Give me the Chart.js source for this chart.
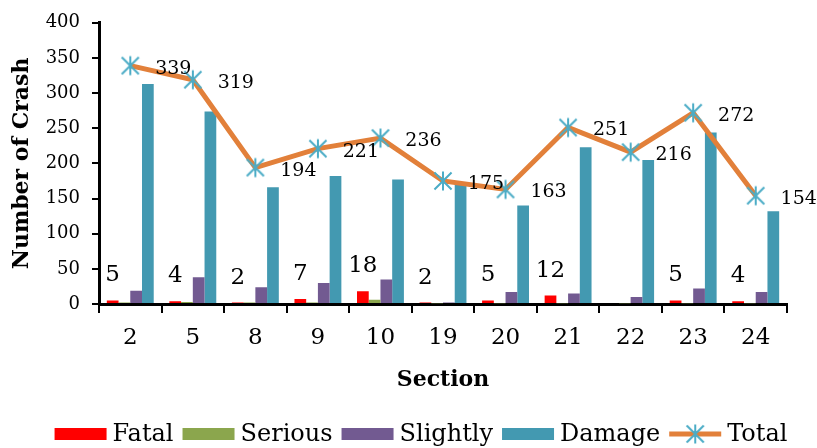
<!DOCTYPE html>
<html>
<head>
<meta charset="utf-8">
<script src="https://cdn.jsdelivr.net/npm/chart.js@4/dist/chart.umd.min.js"></script>
<style>
  html, body { margin: 0; padding: 0; background: #ffffff; }
  #wrap { width: 817px; height: 448px; }
</style>
</head>
<body>
<div id="wrap"><canvas id="crashChart" width="817" height="448"></canvas></div>
<script>
// Crash counts per road section
const sections = ['2', '5', '8', '9', '10', '19', '20', '21', '22', '23', '24'];
const fatal    = [5, 4, 2, 7, 18, 2, 5, 12, 0, 5, 4];
const serious  = [2, 3, 2, 2, 6, 1, 1, 1, 1, 1, 1];
const slightly = [19, 38, 24, 30, 35, 2, 17, 15, 10, 22, 17];
const damage   = [313, 274, 166, 182, 177, 170, 140, 223, 205, 244, 132];
const total    = [339, 319, 194, 221, 236, 175, 163, 251, 216, 272, 154];

const SERIF = '"DejaVu Serif", "Liberation Serif", serif';
const ORANGE = '#E2803A';
const STAR = '#4BACC6';

// Asterisk marker (vertical bar plus two diagonals)
function makeAsterisk(size, color, lw) {
  const c = document.createElement('canvas');
  c.width = size; c.height = size;
  const g = c.getContext('2d');
  const m = size / 2;
  const r = m - 1.5;
  const d = r * 0.9;
  g.strokeStyle = color;
  g.lineWidth = lw;
  g.lineCap = 'butt';
  g.beginPath();
  g.moveTo(m, m - r); g.lineTo(m, m + r);
  g.moveTo(m - d, m - d); g.lineTo(m + d, m + d);
  g.moveTo(m + d, m - d); g.lineTo(m - d, m + d);
  g.stroke();
  return c;
}
const starMarker = makeAsterisk(22, STAR, 2);

// Value labels: totals to the right of each point, fatal counts above the red bars
const valueLabels = {
  id: 'valueLabels',
  afterDatasetsDraw(chart) {
    const ctx = chart.ctx;
    ctx.save();
    ctx.fillStyle = '#000';
    ctx.textBaseline = 'middle';
    ctx.textAlign = 'center';

    const lineMeta = chart.getDatasetMeta(4);
    ctx.font = '19px ' + SERIF;
    lineMeta.data.forEach((pt, i) => {
      ctx.fillText(String(total[i]), pt.x + 43, pt.y + 3);
    });

    const fatalMeta = chart.getDatasetMeta(0);
    ctx.font = '23px ' + SERIF;
    fatalMeta.data.forEach((bar, i) => {
      if (fatal[i] > 0) ctx.fillText(String(fatal[i]), bar.x, bar.y - 25);
    });
    ctx.restore();
  }
};

// Legend row along the bottom
const bottomLegend = {
  id: 'bottomLegend',
  afterDraw(chart) {
    const ctx = chart.ctx;
    const sets = chart.data.datasets;
    const swW = 52, gapIn = 6, gapOut = 9, cy = 434;
    ctx.save();
    ctx.font = '24px ' + SERIF;
    ctx.textBaseline = 'middle';
    ctx.textAlign = 'left';
    const widths = sets.map(ds => ctx.measureText(ds.label).width);
    let totalW = 0;
    widths.forEach((w, i) => { totalW += swW + gapIn + w + (i < widths.length - 1 ? gapOut : 0); });
    let x = 421 - totalW / 2;
    sets.forEach((ds, i) => {
      if (ds.type === 'line') {
        ctx.strokeStyle = ds.borderColor;
        ctx.lineWidth = 5;
        ctx.beginPath();
        ctx.moveTo(x, cy); ctx.lineTo(x + swW, cy);
        ctx.stroke();
        ctx.drawImage(starMarker, x + swW / 2 - starMarker.width / 2, cy - starMarker.height / 2);
      } else {
        ctx.fillStyle = ds.backgroundColor;
        ctx.fillRect(x, cy - 6, swW, 12);
      }
      ctx.fillStyle = '#000';
      ctx.fillText(ds.label, x + swW + gapIn, cy + 1);
      x += swW + gapIn + widths[i] + gapOut;
    });
    ctx.restore();
  }
};

const barCommon = { type: 'bar', categoryPercentage: 0.75, barPercentage: 1.0, order: 1, borderWidth: 0 };

new Chart(document.getElementById('crashChart'), {
  data: {
    labels: sections,
    datasets: [
      Object.assign({ label: 'Fatal',    data: fatal,    backgroundColor: '#FF0000' }, barCommon),
      Object.assign({ label: 'Serious',  data: serious,  backgroundColor: '#8BA64D' }, barCommon),
      Object.assign({ label: 'Slightly', data: slightly, backgroundColor: '#725A91' }, barCommon),
      Object.assign({ label: 'Damage',   data: damage,   backgroundColor: '#4399B1' }, barCommon),
      {
        type: 'line', label: 'Total', data: total, order: 0,
        borderColor: ORANGE, borderWidth: 5, tension: 0,
        pointStyle: starMarker, pointRadius: 10, pointHoverRadius: 10,
        backgroundColor: ORANGE
      }
    ]
  },
  options: {
    responsive: false,
    animation: false,
    devicePixelRatio: 1,
    layout: { padding: { left: 0, right: 30, top: 20, bottom: 53 } },
    plugins: { legend: { display: false }, tooltip: { enabled: false } },
    scales: {
      x: {
        offset: true,
        grid: { display: true, offset: true, drawOnChartArea: false, drawTicks: true, tickLength: 9, color: '#000', lineWidth: 2 },
        border: { display: true, color: '#000', width: 3 },
        ticks: { color: '#000', font: { family: SERIF, size: 23 }, padding: 11, maxRotation: 0 },
        title: { display: true, text: 'Section', color: '#000', font: { family: SERIF, size: 22, weight: 'bold' }, padding: { top: 0, bottom: 2 } },
        afterFit(scale) { scale.height = 91; }
      },
      y: {
        min: 0, max: 400,
        grid: { display: true, drawOnChartArea: false, drawTicks: true, tickLength: 7, color: '#000', lineWidth: 2 },
        border: { display: true, color: '#000', width: 3 },
        ticks: { stepSize: 50, color: '#000', font: { family: SERIF, size: 18 }, padding: 12 },
        title: { display: true, text: 'Number of Crash', color: '#000', font: { family: SERIF, size: 22, weight: 'bold' }, padding: { top: 9, bottom: 0 } },
        afterFit(scale) { scale.width = 99; }
      }
    }
  },
  plugins: [valueLabels, bottomLegend]
});
</script>
</body>
</html>
